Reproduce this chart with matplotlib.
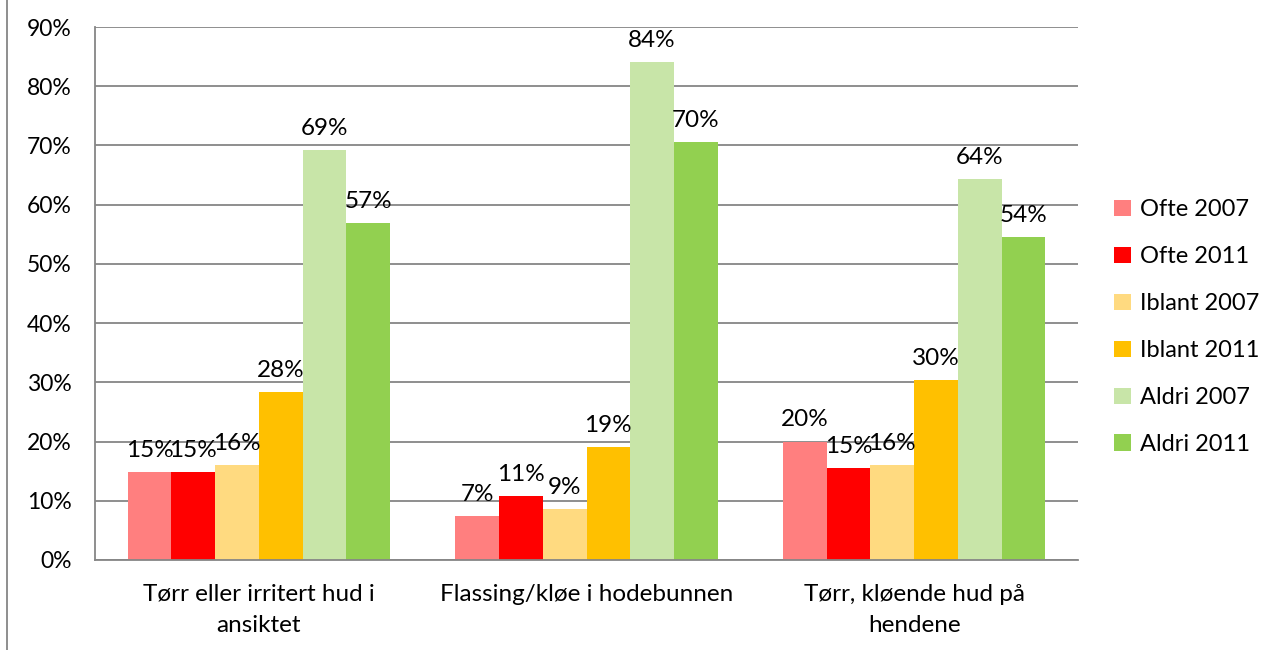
import numpy as np
import matplotlib.pyplot as plt
from matplotlib.lines import Line2D

plt.rcParams['font.family'] = ['Lato', 'DejaVu Sans']

categories = ['Tørr eller irritert hud i\nansiktet',
              'Flassing/kløe i hodebunnen',
              'Tørr, kløende hud på\nhendene']
series = ['Ofte 2007', 'Ofte 2011', 'Iblant 2007', 'Iblant 2011', 'Aldri 2007', 'Aldri 2011']
values = [
    [14.9, 7.4, 20.0],    # Ofte 2007
    [14.9, 10.8, 15.5],   # Ofte 2011
    [16.0, 8.6, 16.0],    # Iblant 2007
    [28.4, 19.1, 30.4],   # Iblant 2011
    [69.2, 84.1, 64.3],   # Aldri 2007
    [56.9, 70.5, 54.5],   # Aldri 2011
]
labels = [
    ['15%', '7%', '20%'],
    ['15%', '11%', '15%'],
    ['16%', '9%', '16%'],
    ['28%', '19%', '30%'],
    ['69%', '84%', '64%'],
    ['57%', '70%', '54%'],
]
colors = ['#FF7F7F', '#FF0000', '#FFDA80', '#FFC000', '#C8E5A8', '#92D050']
yticks = [0, 10, 20, 30, 40, 50, 60, 70, 80, 90]

fig = plt.figure(figsize=(12.67, 6.5), dpi=100)
ax = fig.add_axes([95 / 1267, 90 / 650, (1078 - 95) / 1267, (560 - 27) / 650])

x = np.arange(len(categories))
w = 0.1333
for i, s in enumerate(series):
    pos = x + (i - 2.5) * w
    bars = ax.bar(pos, values[i], width=w, color=colors[i], label=s, zorder=2)
    for b, lab in zip(bars, labels[i]):
        ax.annotate(lab, (b.get_x() + b.get_width() / 2, b.get_height()),
                    xytext=(0, 8), textcoords='offset points',
                    ha='center', va='bottom', fontsize=17.5)

ax.set_xlim(-0.5, 2.5)
ax.set_ylim(0, 90)
ax.set_yticks(yticks)
ax.set_yticklabels([f'{t}%' for t in yticks], fontsize=16.5)
ax.set_xticks(x)
ax.set_xticklabels(categories, fontsize=17.5, linespacing=1.6)
ax.tick_params(axis='both', length=0)
ax.tick_params(axis='y', pad=17)
ax.tick_params(axis='x', pad=17)
ax.yaxis.grid(True, color='#868686', linewidth=1.3, zorder=0)
ax.set_axisbelow(True)
for sp in ['top', 'right']:
    ax.spines[sp].set_visible(False)
for sp in ['left', 'bottom']:
    ax.spines[sp].set_color('#868686')
    ax.spines[sp].set_linewidth(1.3)

leg = ax.legend(loc='center left', bbox_to_anchor=(1.015, 0.437), frameon=False,
                fontsize=17, handlelength=0.7, handleheight=0.7,
                handletextpad=0.4, labelspacing=1.1)

# outer chart border (left edge visible)
fig.add_artist(Line2D([7 / 1267, 7 / 1267], [0, 1], color='#868686', linewidth=1.3))

fig.savefig('out.png', dpi=100)
